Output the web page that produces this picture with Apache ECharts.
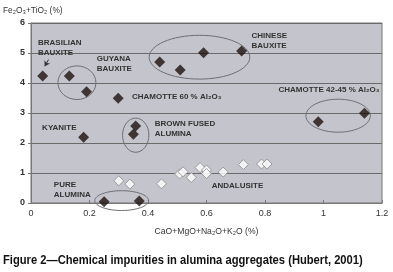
<!DOCTYPE html>
<html>
<head>
<meta charset="utf-8">
<script src="https://cdn.jsdelivr.net/npm/echarts@6/dist/echarts.min.js"></script>
<style>
  html, body { margin: 0; padding: 0; background: #fff; }
  #chart { width: 393px; height: 272px; }
</style>
</head>
<body>
<div id="chart"></div>
<script>
  // black diamonds: bauxites, chamottes, kyanite, fused and pure alumina
  const darkPoints = [
    [0.04, 4.23], [0.131, 4.23], [0.19, 3.71], [0.298, 3.49],
    [0.44, 4.7], [0.51, 4.43], [0.59, 5.01], [0.72, 5.07],
    [0.18, 2.19], [0.358, 2.57], [0.35, 2.29],
    [0.982, 2.71], [1.14, 2.99],
    [0.25, 0.04], [0.37, 0.07]
  ]
  // open diamonds: andalusite
  const andalusite = [
    [0.30, 0.74], [0.338, 0.63], [0.446, 0.64], [0.508, 0.97], [0.52, 1.04],
    [0.548, 0.85], [0.578, 1.18], [0.60, 1.1], [0.60, 0.98], [0.657, 1.03],
    [0.726, 1.28], [0.788, 1.3], [0.807, 1.3]
  ]
  // ellipses round the groups: centre x, centre y, radius x, radius y
  const groupRings = [
    [0.157, 4.01, 0.065, 0.56],
    [0.576, 4.86, 0.172, 0.73],
    [1.05, 2.91, 0.11, 0.55],
    [0.358, 2.26, 0.045, 0.57],
    [0.31, 0.08, 0.092, 0.33]
  ]
  // group names: x, y, text
  const groupNames = [
    [0.024, 5.17, 'BRASILIAN\nBAUXITE'],
    [0.225, 4.63, 'GUYANA\nBAUXITE'],
    [0.754, 5.4, 'CHINESE\nBAUXITE'],
    [0.345, 3.53, 'CHAMOTTE 60 % Al₂O₃'],
    [0.846, 3.77, 'CHAMOTTE 42-45 % Al₂O₃'],
    [0.038, 2.51, 'KYANITE'],
    [0.423, 2.48, 'BROWN FUSED\nALUMINA'],
    [0.078, 0.43, 'PURE\nALUMINA'],
    [0.618, 0.57, 'ANDALUSITE']
  ]
  const arrowLine = [[0.06, 4.78], [0.047, 4.56]]
  const xTicks = ['0', '0.2', '0.4', '0.6', '0.8', '1', '1.2']
  const caption = 'Figure 2—Chemical impurities in alumina aggregates (Hubert, 2001)'

  const font = 'Liberation Sans, Arial, sans-serif'
  const chart = echarts.init(document.getElementById('chart'))

  chart.setOption({
    animation: false,
    backgroundColor: '#fff',
    // caption is set in a narrow bold face in the source, so squeeze it a bit
    graphic: [{
      type: 'text',
      x: 3,
      y: 254,
      scaleX: 0.86,
      style: {
        text: caption,
        font: 'bold 13px ' + font,
        fill: '#111'
      }
    }],
    grid: {
      left: 30,
      right: 11,
      top: 23,
      bottom: 69,
      show: true,
      backgroundColor: '#c4c4cc',
      borderColor: '#777',
      borderWidth: 1
    },
    xAxis: {
      type: 'value',
      min: 0,
      max: 1.2,
      interval: 0.2,
      name: 'CaO+MgO+Na₂O+K₂O (%)',
      nameLocation: 'middle',
      nameGap: 24,
      nameTextStyle: { fontFamily: font, fontSize: 8.6, color: '#333' },
      axisLine: { lineStyle: { color: '#777' } },
      axisTick: { inside: true, length: 3, lineStyle: { color: '#777' } },
      splitLine: { show: false },
      axisLabel: {
        fontFamily: font, fontSize: 9, color: '#333', margin: 6,
        formatter: (v, i) => xTicks[i]
      }
    },
    yAxis: {
      type: 'value',
      min: 0,
      max: 6,
      interval: 1,
      name: 'Fe₂O₃+TiO₂ (%)',
      nameLocation: 'end',
      nameGap: 8,
      nameTextStyle: { fontFamily: font, fontSize: 8.4, color: '#333', align: 'left', padding: [0, 0, 0, -28] },
      axisLine: { show: true, lineStyle: { color: '#777' } },
      axisTick: { show: true, length: 3, lineStyle: { color: '#777' } },
      splitLine: { lineStyle: { color: '#6a6a6a', width: 1 } },
      axisLabel: { fontFamily: font, fontSize: 9, fontWeight: 'bold', color: '#333', margin: 6 }
    },
    series: [
      {
        type: 'custom',
        clip: false,
        z: 1,
        silent: true,
        data: groupRings,
        renderItem: function (params, api) {
          const c = api.coord([api.value(0), api.value(1)])
          const s = api.size([api.value(2), api.value(3)])
          return {
            type: 'ellipse',
            shape: { cx: c[0], cy: c[1], rx: s[0], ry: s[1] },
            style: { fill: 'none', stroke: '#6e6e72', lineWidth: 1 }
          }
        }
      },
      {
        type: 'scatter',
        symbol: 'diamond',
        symbolSize: 10,
        z: 3,
        itemStyle: { color: '#fff', borderColor: '#8a8a8a', borderWidth: 1 },
        data: andalusite
      },
      {
        type: 'scatter',
        symbol: 'diamond',
        symbolSize: 11,
        z: 4,
        itemStyle: { color: '#1e120e' },
        data: darkPoints,
        markLine: {
          silent: true,
          symbol: ['none', 'arrow'],
          symbolSize: 5,
          label: { show: false },
          lineStyle: { color: '#333', width: 1, type: 'solid' },
          data: [[{ coord: arrowLine[0] }, { coord: arrowLine[1] }]]
        }
      },
      {
        type: 'custom',
        clip: false,
        z: 5,
        silent: true,
        data: groupNames,
        renderItem: function (params, api) {
          const c = api.coord([api.value(0), api.value(1)])
          return {
            type: 'text',
            x: c[0],
            y: c[1],
            style: {
              text: groupNames[params.dataIndex][2],
              font: 'bold 8px ' + font,
              fill: '#333',
              verticalAlign: 'middle',
              lineHeight: 10
            }
          }
        }
      }
    ]
  })
</script>
</body>
</html>
